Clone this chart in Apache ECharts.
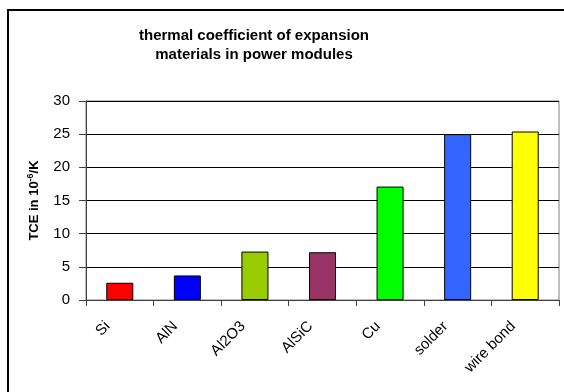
<!DOCTYPE html>
<html>
<head>
<meta charset="utf-8">
<script src="https://cdn.jsdelivr.net/npm/echarts@6/dist/echarts.min.js"></script>
<style>
html,body{margin:0;padding:0;background:#fff;}
#c{width:564px;height:392px;}
</style>
</head>
<body>
<div id="c"></div>
<script>
const categories = ['Si', 'AlN', 'Al2O3', 'AlSiC', 'Cu', 'solder', 'wire bond'];
const tceValues = [2.6, 3.7, 7.3, 7.2, 17.1, 25.0, 25.4];
const barColors = ['#FF0000', '#0000FF', '#99CC00', '#993366', '#00FF00', '#3366FF', '#FFFF00'];
const yTicks = [0, 5, 10, 15, 20, 25, 30];

const FONT = 'Liberation Sans, Arial, sans-serif';
const chart = echarts.init(document.getElementById('c'), null, {renderer: 'canvas'});
chart.setOption({
  animation: false,
  backgroundColor: '#fff',
  graphic: [{
    type: 'rect',
    shape: {x: 8, y: 10, width: 600, height: 500},
    style: {fill: 'none', stroke: '#000', lineWidth: 2},
    silent: true
  }],
  title: {
    text: 'thermal coefficient of expansion\nmaterials in power modules',
    left: 249,
    textAlign: 'center',
    top: 21,
    textStyle: {
      fontFamily: FONT,
      fontWeight: 'bold',
      fontSize: 15,
      lineHeight: 19,
      color: '#000'
    }
  },
  grid: {
    left: 86, right: 5, top: 101, bottom: 92,
    show: true,
    borderColor: '#808080',
    borderWidth: 1,
    containLabel: false
  },
  xAxis: {
    type: 'category',
    data: categories,
    axisLine: {show: true, lineStyle: {color: '#404040', width: 1}},
    axisTick: {show: true, length: 6, inside: false, alignWithLabel: false, lineStyle: {color: '#404040'}},
    axisLabel: {
      rotate: 45,
      interval: 0,
      margin: 12,
      padding: [0, 17, 0, 0],
      fontFamily: FONT,
      fontSize: 15,
      color: '#000'
    },
    splitLine: {show: false}
  },
  yAxis: {
    type: 'value',
    min: 0,
    max: 30,
    interval: 5,
    name: '{b|TCE in 10}{s|-6}{b|/K}',
    nameLocation: 'middle',
    nameGap: 44,
    nameTextStyle: {
      rich: {
        b: {fontFamily: FONT, fontWeight: 'bold', fontSize: 13, color: '#000'},
        s: {fontFamily: FONT, fontWeight: 'bold', fontSize: 9, color: '#000', verticalAlign: 'top', padding: [0, 0, 7, 0]}
      }
    },
    axisLine: {show: true, lineStyle: {color: '#404040', width: 1}},
    axisTick: {show: true, length: 7, lineStyle: {color: '#404040'}},
    axisLabel: {
      margin: 16,
      fontFamily: FONT,
      fontSize: 15,
      color: '#000',
      formatter: function (v) { return yTicks.indexOf(v) >= 0 ? String(v) : ''; }
    },
    splitLine: {show: true, lineStyle: {color: '#000', width: 1}}
  },
  series: [{
    type: 'bar',
    data: tceValues.map((v, i) => ({value: v, itemStyle: {color: barColors[i]}})),
    barWidth: '40%',
    itemStyle: {borderColor: '#000', borderWidth: 1}
  }]
});
</script>
</body>
</html>
